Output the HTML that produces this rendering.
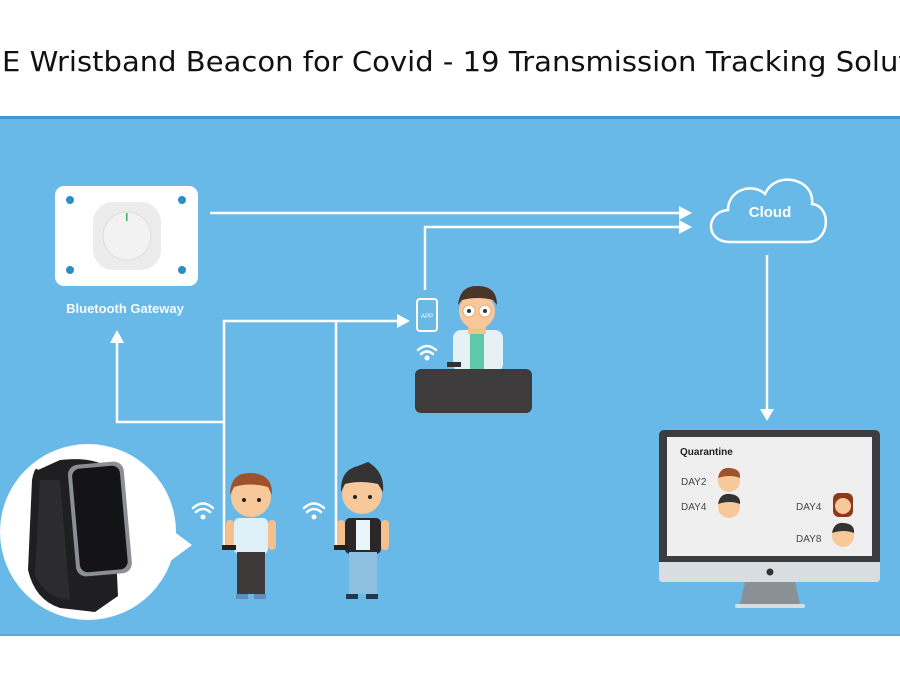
<!DOCTYPE html>
<html><head><meta charset="utf-8"><style>
html,body{margin:0;padding:0;width:900px;height:675px;overflow:hidden;background:#fff}
svg{display:block}
text{font-family:"Liberation Sans",sans-serif}
</style></head><body>
<svg width="900" height="675" viewBox="0 0 900 675">
<rect width="900" height="675" fill="#fff"/>
<text x="-40" y="71" font-size="28" fill="#111" style="font-family:'DejaVu Sans','Liberation Sans',sans-serif">BL</text>
<text x="2" y="71" font-size="28" fill="#111" style="font-family:'DejaVu Sans','Liberation Sans',sans-serif" textLength="952" lengthAdjust="spacingAndGlyphs">E Wristband Beacon for Covid - 19 Transmission Tracking Solution</text>
<rect x="0" y="116" width="900" height="520" fill="#69b9e8"/>
<rect x="0" y="116" width="900" height="3" fill="#3f98d4"/>
<rect x="0" y="634" width="900" height="2" fill="#5aa8dc"/>

<!-- gateway -->
<rect x="55" y="186" width="143" height="100" rx="9" fill="#fff"/>
<circle cx="70" cy="200" r="4" fill="#2d8ccc"/><circle cx="182" cy="200" r="4" fill="#2d8ccc"/>
<circle cx="70" cy="270" r="4" fill="#2d8ccc"/><circle cx="182" cy="270" r="4" fill="#2d8ccc"/>
<rect x="93" y="202" width="68" height="68" rx="20" fill="#ececec"/>
<circle cx="127" cy="236" r="24" fill="#f2f2f2" stroke="#ddd"/>
<rect x="126" y="213" width="1.5" height="8" fill="#3bb54a"/>
<text x="125" y="313" font-size="13" fill="#fff" text-anchor="middle" font-weight="bold" opacity="0.95">Bluetooth Gateway</text>

<!-- lines -->
<g stroke="#fff" stroke-width="2.5" fill="none">
<path d="M210 213 H680"/>
<path d="M425 290 V227 H680"/>
<path d="M767 255 V410"/>
<path d="M117 342 V422 H224"/>
<path d="M224 545 V321 H398"/>
<path d="M336 545 V321"/>
</g>
<g fill="#fff">
<path d="M679 206 L692 213 L679 220Z"/>
<path d="M679 220 L692 227 L679 234Z"/>
<path d="M760 409 L767 421 L774 409Z"/>
<path d="M110 343 L117 330 L124 343Z"/>
<path d="M397 314 L410 321 L397 328Z"/>
</g>

<!-- cloud -->
<path d="M730 242 C705 242 705 212 728 210 C728 190 752 182 765 194 C775 170 815 178 812 204 C832 206 830 242 808 242 Z" fill="none" stroke="#fff" stroke-width="2.5"/>
<text x="770" y="217" font-size="15" fill="#fff" text-anchor="middle" font-weight="bold">Cloud</text>

<!-- phone -->
<rect x="417" y="299" width="20" height="32" rx="3" fill="none" stroke="#fff" stroke-width="2"/>
<text x="427" y="318" font-size="6" fill="#fff" text-anchor="middle">APP</text>
<!-- wifi icons -->
<g fill="none" stroke="#fff" stroke-width="2.5" stroke-linecap="round">
<path d="M418 350 Q427 342 436 350"/><path d="M421 354 Q427 349 433 354"/>
<path d="M193 508 Q203 499 213 508"/><path d="M196 512 Q203 506 210 512"/>
<path d="M304 508 Q314 499 324 508"/><path d="M307 512 Q314 506 321 512"/>
</g>
<circle cx="427" cy="358" r="2.5" fill="#fff"/><circle cx="203" cy="517" r="2.5" fill="#fff"/><circle cx="314" cy="517" r="2.5" fill="#fff"/>

<!-- doctor -->
<rect x="453" y="330" width="50" height="42" rx="8" fill="#e6f1f6"/>
<rect x="470" y="332" width="14" height="38" fill="#5fc8a8"/>
<rect x="468" y="320" width="18" height="14" fill="#f4c090"/>
<circle cx="477" cy="311" r="18" fill="#f7c89a"/>
<path d="M458 305 Q460 285 478 286 Q497 286 497 305 L493 300 Q478 296 462 300Z" fill="#4a3528"/>
<circle cx="469" cy="311" r="6" fill="#fff" stroke="#e8a870"/><circle cx="485" cy="311" r="6" fill="#fff" stroke="#e8a870"/>
<circle cx="469" cy="311" r="2" fill="#333"/><circle cx="485" cy="311" r="2" fill="#333"/>
<rect x="447" y="362" width="14" height="5" fill="#333"/>
<rect x="415" y="369" width="117" height="44" rx="6" fill="#3d3b3c"/>

<!-- monitor -->
<rect x="659" y="430" width="221" height="134" rx="5" fill="#3d3d3f"/>
<rect x="667" y="437" width="205" height="119" fill="#efefef"/>
<rect x="659" y="560" width="221" height="22" rx="3" fill="#d8dde1"/>
<rect x="659" y="558" width="221" height="4" fill="#3d3d3f"/>
<circle cx="770" cy="572" r="3.5" fill="#333"/>
<path d="M745 582 H795 L800 604 H740Z" fill="#8a9196"/>
<rect x="735" y="604" width="70" height="4" rx="2" fill="#d8dde1"/>
<text x="680" y="455" font-size="10" fill="#222" font-weight="bold">Quarantine</text>
<g font-size="10" fill="#444">
<text x="681" y="485">DAY2</text><text x="681" y="510">DAY4</text>
<text x="796" y="510">DAY4</text><text x="796" y="542">DAY8</text>
</g>
<g>
<circle cx="729" cy="481" r="11" fill="#f7c89a"/><path d="M718 478 Q720 467 730 468 Q741 469 740 478 Q730 474 718 478Z" fill="#a0522d"/>
<circle cx="729" cy="507" r="11" fill="#f7c89a"/><path d="M718 504 Q720 493 730 494 Q741 495 740 504 Q730 500 718 504Z" fill="#333"/>
<rect x="833" y="493" width="20" height="24" rx="6" fill="#8b3a1a"/><circle cx="843" cy="506" r="8" fill="#f7c89a"/>
<circle cx="843" cy="536" r="11" fill="#f7c89a"/><path d="M832 533 Q834 522 844 523 Q855 524 854 533 Q844 529 832 533Z" fill="#333"/>
</g>

<!-- wristband bubble -->
<path d="M165 525 L192 545 L165 565Z" fill="#fff"/>
<circle cx="88" cy="532" r="88" fill="#fff"/>
<path d="M38 470 Q35 465 32 480 L28 570 Q35 600 60 608 L95 612 L118 596 L112 470 Q95 456 60 460Z" fill="#1f1f21"/>
<path d="M40 480 L35 575 Q45 598 70 600 L60 480Z" fill="#2c2c2e"/>
<rect x="72" y="463" width="56" height="112" rx="10" fill="#8b8e92" transform="rotate(-5 100 520)"/>
<rect x="76" y="467" width="48" height="104" rx="8" fill="#141416" transform="rotate(-5 100 520)"/>

<!-- person 1 -->
<rect x="234" y="518" width="34" height="36" rx="5" fill="#dff1f8"/>
<rect x="237" y="552" width="28" height="42" fill="#3e3a39"/>
<rect x="226" y="520" width="8" height="30" rx="4" fill="#f4c090"/><rect x="268" y="520" width="8" height="30" rx="4" fill="#f4c090"/>
<rect x="222" y="545" width="14" height="5" fill="#222"/>
<circle cx="251" cy="497" r="20" fill="#f7c89a"/>
<path d="M230 495 Q230 472 251 473 Q273 474 272 495 L268 487 Q250 482 234 487Z" fill="#a0522d"/>
<circle cx="244" cy="500" r="2" fill="#222"/><circle cx="259" cy="500" r="2" fill="#222"/>
<rect x="236" y="594" width="12" height="5" fill="#5a8fbf"/><rect x="254" y="594" width="12" height="5" fill="#5a8fbf"/>

<!-- person 2 -->
<rect x="345" y="518" width="36" height="36" rx="5" fill="#2b2628"/>
<rect x="356" y="520" width="14" height="30" fill="#e8f5fa"/>
<rect x="349" y="552" width="28" height="42" fill="#8dbfe0"/>
<rect x="337" y="520" width="8" height="30" rx="4" fill="#f4c090"/><rect x="381" y="520" width="8" height="30" rx="4" fill="#f4c090"/>
<rect x="334" y="545" width="14" height="5" fill="#222"/>
<circle cx="362" cy="494" r="20" fill="#f7c89a"/>
<path d="M341 492 Q340 470 358 466 L368 462 Q385 472 383 492 L378 484 Q360 480 345 484Z" fill="#333"/>
<circle cx="355" cy="497" r="2" fill="#222"/><circle cx="370" cy="497" r="2" fill="#222"/>
<rect x="346" y="594" width="12" height="5" fill="#22384f"/><rect x="366" y="594" width="12" height="5" fill="#22384f"/>
</svg>
</body></html>
